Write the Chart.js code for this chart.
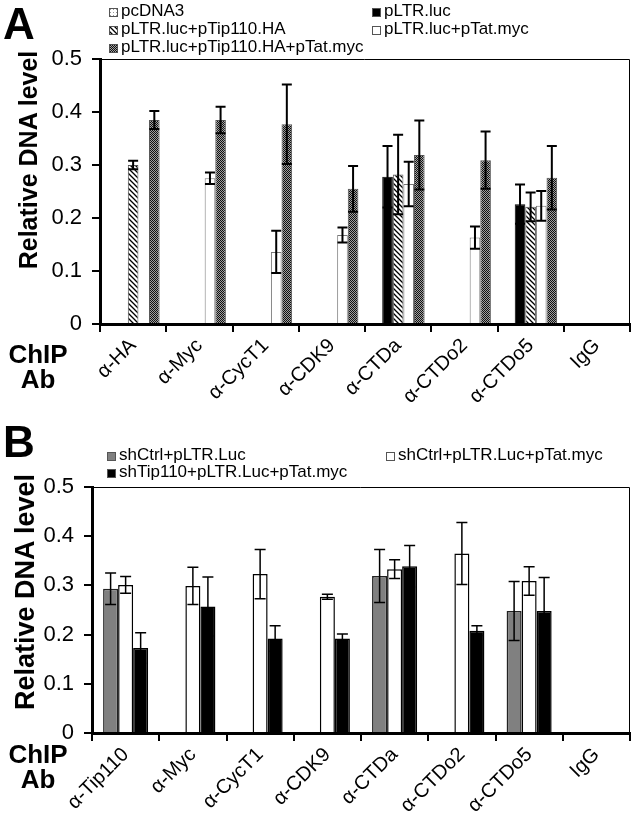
<!DOCTYPE html>
<html>
<head>
<meta charset="utf-8">
<script src="https://cdn.jsdelivr.net/npm/chart.js@4.4.0/dist/chart.umd.min.js"></script>
<style>
body { margin: 0; background: #fff; font-family: 'Liberation Sans', Arial, sans-serif; color: #000; }
#wrap { position: relative; width: 633px; height: 818px; overflow: hidden; }
canvas.c { position: absolute; left: 0; }
.big { position: absolute; font-weight: bold; font-size: 44px; line-height: 44px; }
.chip { position: absolute; font-weight: bold; font-size: 26px; line-height: 25px; text-align: center; width: 76px; }
.leg { position: absolute; font-size: 17px; line-height: 17px; white-space: nowrap; }
.leg canvas { vertical-align: -1px; margin-right: 3px; }
.ytitle { position: absolute; font-weight: bold; white-space: nowrap; line-height: 1; transform: translate(-50%, -50%) rotate(-90deg); }
</style>
</head>
<body>
<div id="wrap">
  <canvas class="c" id="chartA" width="633" height="420" style="top:0"></canvas>
  <canvas class="c" id="chartB" width="633" height="418" style="top:400px"></canvas>

  <div class="big" style="left:3px;top:2px">A</div>
  <div class="leg" style="left:109px;top:2px"><canvas class="sw" data-p="dots" width="9" height="9"></canvas>pcDNA3</div>
  <div class="leg" style="left:109px;top:20px"><canvas class="sw" data-p="hatch" width="9" height="9"></canvas>pLTR.luc+pTip110.HA</div>
  <div class="leg" style="left:109px;top:38px"><canvas class="sw" data-p="check" width="9" height="9"></canvas>pLTR.luc+pTip110.HA+pTat.myc</div>
  <div class="leg" style="left:372px;top:2px"><canvas class="sw" data-p="black" width="9" height="9"></canvas>pLTR.luc</div>
  <div class="leg" style="left:372px;top:20px"><canvas class="sw" data-p="white" width="9" height="9"></canvas>pLTR.luc+pTat.myc</div>
  <div class="ytitle" style="left:28px;top:160px;font-size:25px">Relative DNA level</div>
  <div class="chip" style="left:0;top:342px">ChIP<br>Ab</div>

  <div class="big" style="left:3px;top:420px">B</div>
  <div class="leg" style="left:107px;top:446px"><canvas class="sw" data-p="gray" width="9" height="9"></canvas>shCtrl+pLTR.Luc</div>
  <div class="leg" style="left:107px;top:463px"><canvas class="sw" data-p="black" width="9" height="9"></canvas>shTip110+pLTR.Luc+pTat.myc</div>
  <div class="leg" style="left:386px;top:446px"><canvas class="sw" data-p="white" width="9" height="9"></canvas>shCtrl+pLTR.Luc+pTat.myc</div>
  <div class="ytitle" style="left:25px;top:592px;font-size:27px">Relative DNA level</div>
  <div class="chip" style="left:0;top:742px">ChIP<br>Ab</div>
</div>
<script>
// panel A
const categoriesA = ['α-HA', 'α-Myc', 'α-CycT1', 'α-CDK9', 'α-CTDa', 'α-CTDo2', 'α-CTDo5', 'IgG'];
const pcDNA3 = [0, 0, 0, 0, 0, 0, 0, 0];
const pcDNA3Err = [0, 0, 0, 0, 0, 0, 0, 0];
const pLTRluc = [0, 0, 0, 0, 0.278, 0, 0.226, 0];
const pLTRlucErr = [0, 0, 0, 0, 0.058, 0, 0.037, 0];
const pLTRlucTip110 = [0.300, 0, 0, 0, 0.282, 0, 0.221, 0];
const pLTRlucTip110Err = [0.008, 0, 0, 0, 0.075, 0, 0.027, 0];
const pLTRlucTat = [0, 0.275, 0.136, 0.168, 0.264, 0.163, 0.223, 0];
const pLTRlucTatErr = [0, 0.011, 0.040, 0.014, 0.042, 0.021, 0.028, 0];
const pLTRlucTip110Tat = [0.385, 0.385, 0.377, 0.255, 0.319, 0.309, 0.276, 0];
const pLTRlucTip110TatErr = [0.017, 0.025, 0.075, 0.043, 0.065, 0.054, 0.060, 0];

// panel B
const categoriesB = ['α-Tip110', 'α-Myc', 'α-CycT1', 'α-CDK9', 'α-CTDa', 'α-CTDo2', 'α-CTDo5', 'IgG'];
const shCtrl = [0.293, 0, 0, 0, 0.319, 0, 0.248, 0];
const shCtrlErr = [0.032, 0, 0, 0, 0.054, 0, 0.060, 0];
const shCtrlTat = [0.301, 0.299, 0.323, 0.277, 0.333, 0.365, 0.309, 0];
const shCtrlTatErr = [0.017, 0.038, 0.050, 0.005, 0.019, 0.063, 0.029, 0];
const shTip110Tat = [0.173, 0.257, 0.192, 0.192, 0.339, 0.208, 0.248, 0];
const shTip110TatErr = [0.031, 0.060, 0.026, 0.009, 0.042, 0.010, 0.068, 0];

const yTicks = [0, 0.1, 0.2, 0.3, 0.4, 0.5];

// fill patterns
function makePattern(kind) {
    const t = document.createElement('canvas');
    const g = t.getContext('2d');
    if (kind === 'hatch') {
        t.width = 5; t.height = 5;
        g.fillStyle = '#fff'; g.fillRect(0, 0, 5, 5);
        g.strokeStyle = '#000'; g.lineWidth = 1.3;
        g.beginPath();
        g.moveTo(-1, -1); g.lineTo(6, 6);
        g.moveTo(-1, 4); g.lineTo(1, 6);
        g.moveTo(4, -1); g.lineTo(6, 1);
        g.stroke();
    } else if (kind === 'check') {
        t.width = 2; t.height = 2;
        g.fillStyle = '#a0a0a0'; g.fillRect(0, 0, 2, 2);
        g.fillStyle = '#111'; g.fillRect(0, 0, 1, 1); g.fillRect(1, 1, 1, 1);
    } else {
        t.width = 3; t.height = 3;
        g.fillStyle = '#fff'; g.fillRect(0, 0, 3, 3);
        g.fillStyle = '#999'; g.fillRect(1, 1, 1, 1);
    }
    return g.createPattern(t, 'repeat');
}
const fills = {
    dots: makePattern('dots'),
    hatch: makePattern('hatch'),
    check: makePattern('check'),
    black: '#000',
    white: '#fff',
    gray: '#808080'
};

document.querySelectorAll('canvas.sw').forEach(c => {
    const g = c.getContext('2d');
    g.fillStyle = fills[c.dataset.p];
    g.fillRect(0, 0, 9, 9);
    g.strokeStyle = '#555';
    g.lineWidth = 1;
    g.strokeRect(0.5, 0.5, 8, 8);
});

const errorBars = {
    id: 'errorBars',
    afterDatasetsDraw(chart, args, opts) {
        const ctx = chart.ctx;
        const y = chart.scales.y;
        chart.data.datasets.forEach((ds, di) => {
            const meta = chart.getDatasetMeta(di);
            meta.data.forEach((bar, i) => {
                const v = ds.data[i], e = ds.errors[i];
                if (!e) return;
                const top = y.getPixelForValue(v + e);
                const bot = y.getPixelForValue(v - e);
                ctx.save();
                ctx.strokeStyle = '#000';
                ctx.lineWidth = opts.width;
                ctx.beginPath();
                ctx.moveTo(bar.x, top); ctx.lineTo(bar.x, bot);
                ctx.moveTo(bar.x - opts.cap, top); ctx.lineTo(bar.x + opts.cap, top);
                ctx.moveTo(bar.x - opts.cap, bot); ctx.lineTo(bar.x + opts.cap, bot);
                ctx.stroke();
                ctx.restore();
            });
        });
    }
};

// thin box on top and right of the plot
const frame = {
    id: 'frame',
    afterDraw(chart) {
        const a = chart.chartArea, ctx = chart.ctx;
        ctx.save();
        ctx.strokeStyle = '#000';
        ctx.lineWidth = 1;
        ctx.beginPath();
        ctx.moveTo(a.left, a.top + 0.5); ctx.lineTo(a.right - 0.5, a.top + 0.5);
        ctx.lineTo(a.right - 0.5, a.bottom);
        ctx.stroke();
        ctx.restore();
    }
};

function options(cfg) {
    return {
        responsive: false,
        animation: false,
        layout: { padding: { top: cfg.top, right: 3, left: 0, bottom: 0 } },
        plugins: {
            legend: { display: false },
            tooltip: { enabled: false },
            errorBars: { width: cfg.errWidth, cap: cfg.cap }
        },
        datasets: { bar: { categoryPercentage: cfg.catPct, barPercentage: 1 } },
        scales: {
            x: {
                afterFit: s => { s.height = cfg.xHeight; },
                grid: { drawOnChartArea: false, offset: true, tickLength: 8, color: '#000', lineWidth: 2 },
                border: { display: true, color: '#000', width: 3 },
                ticks: {
                    color: '#000', font: { family: "'Liberation Sans', Arial", size: 20 },
                    autoSkip: false, minRotation: 45, maxRotation: 45, padding: 2
                }
            },
            y: {
                min: 0, max: 0.5,
                afterFit: s => { s.width = cfg.yWidth; },
                afterBuildTicks: s => { s.ticks = yTicks.map(v => ({ value: v })); },
                grid: { drawOnChartArea: false, tickLength: 8, color: '#000', lineWidth: 2 },
                border: { display: true, color: '#000', width: 3 },
                ticks: { color: '#000', font: { family: "'Liberation Sans', Arial", size: 22 }, padding: 10 }
            }
        }
    };
}

new Chart(document.getElementById('chartA'), {
    type: 'bar',
    data: {
        labels: categoriesA,
        datasets: [
            { label: 'pcDNA3', data: pcDNA3, errors: pcDNA3Err, backgroundColor: fills.dots, borderColor: '#777', borderWidth: 1 },
            { label: 'pLTR.luc', data: pLTRluc, errors: pLTRlucErr, backgroundColor: '#000', borderColor: '#000', borderWidth: 1 },
            { label: 'pLTR.luc+pTip110.HA', data: pLTRlucTip110, errors: pLTRlucTip110Err, backgroundColor: fills.hatch, borderColor: '#555', borderWidth: 1 },
            { label: 'pLTR.luc+pTat.myc', data: pLTRlucTat, errors: pLTRlucTatErr, backgroundColor: '#fff', borderColor: '#777', borderWidth: 1 },
            { label: 'pLTR.luc+pTip110.HA+pTat.myc', data: pLTRlucTip110Tat, errors: pLTRlucTip110TatErr, backgroundColor: fills.check, borderColor: '#555', borderWidth: 1 }
        ]
    },
    options: options({ top: 59, xHeight: 96, yWidth: 100, catPct: 0.8, errWidth: 2, cap: 5 }),
    plugins: [errorBars, frame]
});

new Chart(document.getElementById('chartB'), {
    type: 'bar',
    data: {
        labels: categoriesB,
        datasets: [
            { label: 'shCtrl+pLTR.Luc', data: shCtrl, errors: shCtrlErr, backgroundColor: '#808080', borderColor: '#222', borderWidth: 1.5 },
            { label: 'shCtrl+pLTR.Luc+pTat.myc', data: shCtrlTat, errors: shCtrlTatErr, backgroundColor: '#fff', borderColor: '#000', borderWidth: 1.5 },
            { label: 'shTip110+pLTR.Luc+pTat.myc', data: shTip110Tat, errors: shTip110TatErr, backgroundColor: '#000', borderColor: '#000', borderWidth: 1.5 }
        ]
    },
    options: options({ top: 87, xHeight: 85, yWidth: 92, catPct: 0.67, errWidth: 1.5, cap: 5.5 }),
    plugins: [errorBars, frame]
});
</script>
</body>
</html>
